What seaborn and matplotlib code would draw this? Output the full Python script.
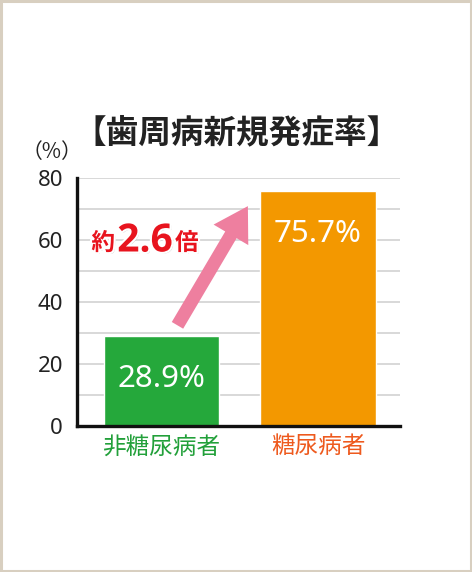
import numpy as np
import pandas as pd
import matplotlib
matplotlib.use('Agg')
import matplotlib.pyplot as plt
import matplotlib.patches as mpatches
import matplotlib.patheffects as pe
import seaborn as sns

# data
groups = ['非糖尿病者', '糖尿病者']
rates = [28.9, 75.7]
bar_colors = ['#25a83b', '#f39800']
label_colors = ['#22a03a', '#ee5a1e']
y_ticks = [0, 20, 40, 60, 80]
title = '【歯周病新規発症率】'
ratio_text = ('約', '2.6', '倍')

sns.set_theme(style='white')
plt.rcParams['font.family'] = ['Noto Sans CJK JP', 'DejaVu Sans']

df = pd.DataFrame({'group': groups, 'rate': rates})

fig = plt.figure(figsize=(4.72, 5.72), dpi=100)
ax = fig.add_axes([77 / 472, 1 - 425.7 / 572, 323 / 472, 248 / 572])

sns.barplot(data=df, x='group', y='rate', hue='group', palette=bar_colors,
            width=0.735, saturation=1, legend=False, ax=ax, zorder=3)

ax.set_xlim(-0.54, 1.524)
ax.set_ylim(0, 80)
ax.set_yticks(y_ticks)
ax.set_yticks(np.arange(0, 81, 10), minor=True)
ax.grid(axis='y', which='both', color='#d6d6d6', linewidth=1.3, zorder=0)
ax.set_axisbelow(True)
ax.set_xlabel('')
ax.set_ylabel('')

for side in ['top', 'right']:
    ax.spines[side].set_visible(False)
for side in ['left', 'bottom']:
    ax.spines[side].set_color('#111111')
    ax.spines[side].set_linewidth(2.4)
    ax.spines[side].set_zorder(5)

ax.tick_params(axis='y', which='both', length=0, pad=10, labelsize=16, labelcolor='#222222')
ax.tick_params(axis='x', length=0, pad=7, labelsize=17)
for lbl in ax.get_yticklabels():
    lbl.set_family(['Noto Sans', 'DejaVu Sans'])
for lbl, c in zip(ax.get_xticklabels(), label_colors):
    lbl.set_color(c)

# value labels inside the bars
for i, v in enumerate(rates):
    ax.annotate(f'{v}%', xy=(i, v), xytext=(0, -31), textcoords='offset points',
                ha='center', va='center', color='white', fontsize=22.5,
                family=['Noto Sans', 'DejaVu Sans'], zorder=6)

# pink arrow
arrow = mpatches.FancyArrowPatch(
    (0.093, 31.6), (0.561, 71.6),
    arrowstyle='simple, head_width=29, head_length=24, tail_width=9.5',
    color='#ee7f9f', linewidth=0, zorder=6, clip_on=False)
ax.add_patch(arrow)

# "約2.6倍" text with white outline and soft shadow
effects = [pe.withSimplePatchShadow(offset=(1.2, -1.2), shadow_rgbFace='#9a9a9a', alpha=0.5),
           pe.withStroke(linewidth=3, foreground='white')]
red = '#e8141e'
fig.text(115 / 472, 1 - 243 / 572, ratio_text[0], ha='right', va='center',
         fontsize=17, color=red, fontweight='bold', path_effects=effects)
fig.text(145 / 472, 1 - 241 / 572, ratio_text[1], ha='center', va='center',
         fontsize=28, color=red, fontweight='bold',
         family=['Open Sans', 'DejaVu Sans'], path_effects=effects)
fig.text(175 / 472, 1 - 243 / 572, ratio_text[2], ha='left', va='center',
         fontsize=17, color=red, fontweight='bold', path_effects=effects)

fig.text(237 / 472, 1 - 133 / 572, title, ha='center', va='center',
         fontsize=23.5, color='#222222', fontweight='bold')
fig.text(52 / 472, 1 - 152 / 572, '（%）', ha='center', va='center',
         fontsize=15, color='#222222')

# light beige frame
frame = mpatches.Rectangle((0.002, 0.002), 0.996, 0.996, transform=fig.transFigure,
                           fill=False, edgecolor='#d8cfc0', linewidth=2.2)
fig.patches.append(frame)

fig.savefig('out.png', dpi=100)
